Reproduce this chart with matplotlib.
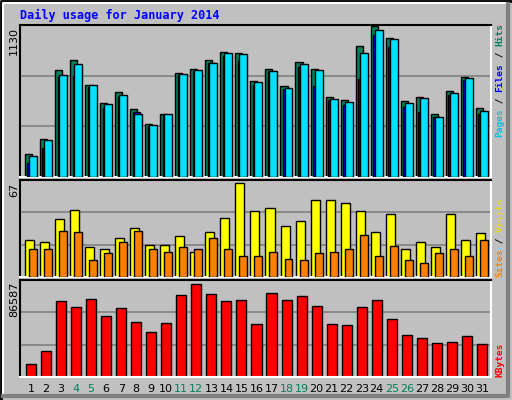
import matplotlib
matplotlib.use("Agg")
import matplotlib.pyplot as plt
import numpy as np

days = list(range(1, 32))
hits = [173, 286, 798, 874, 685, 550, 633, 505, 399, 474, 776, 806, 874, 934, 926, 716,
        806, 678, 859, 806, 595, 572, 979, 1130, 1040, 565, 595, 474, 640, 746, 512]
files = [158, 279, 761, 844, 685, 542, 610, 474, 392, 467, 768, 798, 851, 926, 919, 708,
         791, 663, 844, 798, 580, 557, 926, 1100, 1032, 550, 588, 452, 625, 738, 490]
pages = [105, 218, 746, 753, 670, 512, 595, 482, 384, 460, 761, 791, 851, 904, 866, 685,
         791, 655, 821, 678, 572, 535, 731, 1062, 972, 520, 482, 452, 610, 723, 467]
visits = [26, 25, 41, 48, 21, 20, 28, 35, 23, 23, 29, 18, 32, 42, 67, 47,
          49, 36, 40, 55, 55, 53, 47, 32, 45, 20, 25, 21, 45, 26, 31]
sites = [20, 20, 33, 32, 12, 17, 25, 33, 20, 18, 21, 20, 28, 20, 15, 15,
         18, 13, 12, 17, 18, 20, 30, 15, 22, 12, 10, 17, 20, 15, 26]
kbytes = [11690, 24010, 70450, 64760, 72340, 56230, 63810, 51490, 42010, 50540, 76130,
          86587, 77080, 70450, 71400, 49600, 78030, 71400, 75190, 65710, 49600, 48650,
          64760, 71400, 53390, 39170, 36330, 31590, 32540, 38230, 30640]
weekends = [4, 5, 11, 12, 18, 19, 25, 26]

BG = "#C0C0C0"
W, H = 512, 400
fig = plt.figure(figsize=(W / 100, H / 100), dpi=100, facecolor=BG)

def rect(l, t, r, b):
    return [l / W, 1 - b / H, (r - l) / W, (b - t) / H]

ob = fig.add_axes([0, 0, 1, 1], zorder=-5)
ob.set_xlim(0, W); ob.set_ylim(H, 0); ob.axis("off")
ob.plot([1, 1, W - 1], [H - 1, 1, 1], color="black", lw=2)
ob.plot([3, 3, W - 4], [H - 4, 3, 3], color="white", lw=1.5)
ob.plot([W - 4, W - 4, 3], [4, H - 4, H - 4], color="#808080", lw=3)

xl = (0.27, 31.6)
x = np.array(days)

def setup(ax, top):
    ax.set_facecolor(BG)
    ax.set_xlim(*xl)
    ax.set_ylim(0, top)
    ax.set_xticks([]); ax.set_yticks([])
    for y in (top / 3, 2 * top / 3):
        ax.axhline(y, color="#808080", lw=1.2, zorder=0)
    for s in ("left", "top"):
        ax.spines[s].set_color("black")
    for s in ("right", "bottom"):
        ax.spines[s].set_color("white")
    for s in ax.spines.values():
        s.set_linewidth(1.5)

kw = dict(edgecolor="black", linewidth=1.0)

ax1 = fig.add_axes(rect(20, 25, 491, 177))
setup(ax1, 1130 * 1.005)
ax1.bar(x - 0.17, hits, 0.47, color="#00805C", zorder=2, **kw)
ax1.bar(x + 0.0, pages, 0.47, color="#0000FF", zorder=3, **kw)
ax1.bar(x + 0.13, files, 0.53, color="#00E0FF", zorder=4, **kw)

ax2 = fig.add_axes(rect(20, 180, 491, 277))
setup(ax2, 67 * 1.03)
ax2.bar(x - 0.1, visits, 0.6, color="#FFFF00", zorder=2, **kw)
ax2.bar(x + 0.13, sites, 0.53, color="#FF8000", zorder=3, **kw)

ax3 = fig.add_axes(rect(20, 280, 491, 377))
setup(ax3, 86587 * 1.04)
ax3.bar(x, kbytes, 0.67, color="#FF0000", zorder=2, **kw)

fig.text(20 / W, 1 - 15 / H, "Daily usage for January 2014", color="#0000FF",
         family="DejaVu Sans Mono", weight="bold", fontsize=8.5, va="center")

for txt, ytop in (("1130", 27), ("67", 183), ("86587", 282)):
    fig.text(14 / W, 1 - ytop / H, txt, rotation=90, fontsize=8, va="top", ha="center")

FS = 6.8
STEP = FS * 100 / 72 * 0.6

def side(parts, ybot):
    y = ybot
    for t, c in parts:
        fig.text(500 / W, 1 - y / H, t, rotation=90, color=c, fontsize=FS,
                 family="DejaVu Sans Mono", weight="bold", va="bottom", ha="center")
        y -= len(t) * STEP

side([("Pages", "#00C0E0"), (" / ", "#000000"), ("Files", "#0000FF"),
      (" / ", "#000000"), ("Hits", "#00805C")], 137)
side([("Sites", "#FF8000"), (" / ", "#000000"), ("Visits", "#E0E000")], 277)
side([("KBytes", "#FF0000")], 377)

for d in days:
    xp = (20 + (d - xl[0]) / (xl[1] - xl[0]) * 471) / W
    fig.text(xp, 1 - 389 / H, str(d), ha="center", va="center", fontsize=8,
             color="#00805C" if d in weekends else "black")

fig.savefig("out.png", dpi=100, facecolor=BG)
